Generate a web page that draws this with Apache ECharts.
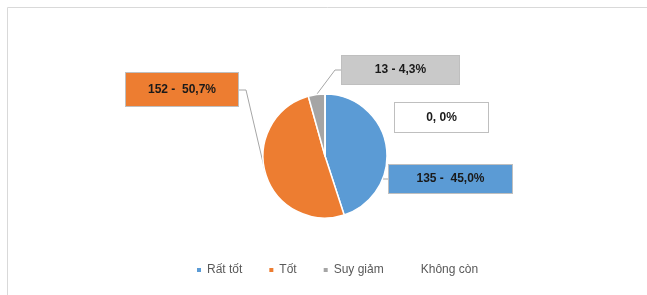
<!DOCTYPE html>
<html>
<head>
<meta charset="utf-8">
<script src="https://cdn.jsdelivr.net/npm/echarts@6/dist/echarts.min.js"></script>
<style>
  html, body { margin: 0; padding: 0; background: #fff; }
  #chart { width: 647px; height: 295px; }
</style>
</head>
<body>
<div id="chart"></div>
<script>
// data
var categories = ['Rất tốt', 'Tốt', 'Suy giảm', 'Không còn'];
var values = [135, 152, 13, 0];
var labelTexts = ['135 -  45,0%', '152 -  50,7%', '13 - 4,3%', '0, 0%'];

// look
var sliceColors = ['#5B9BD5', '#ED7D31', '#A5A5A5', '#ffffff'];
var boxColors = ['#5B9BD5', '#ED7D31', '#C9C9C9', '#ffffff'];
// label boxes: left, top, width, height, and where the leader line bends
var boxes = [
  { x: 388, y: 164, w: 125, h: 30, bend: [383, 179], end: [388, 179] },
  { x: 125, y: 72, w: 114, h: 35, bend: [246, 90], end: [239, 90] },
  { x: 341, y: 55, w: 119, h: 30, bend: [335, 70], end: [341, 70] },
  { x: 394, y: 102, w: 95, h: 31, bend: null, end: null }
];

var pieData = categories.map(function (name, i) {
  return {
    name: name,
    value: values[i],
    itemStyle: { color: sliceColors[i] },
    label: {
      formatter: labelTexts[i],
      backgroundColor: boxColors[i],
      width: boxes[i].w - 2,
      height: boxes[i].h - 2,
      lineHeight: boxes[i].h - 2
    },
    labelLine: { show: boxes[i].bend != null }
  };
});

var chart = echarts.init(document.getElementById('chart'));
chart.setOption({
  animation: false,
  graphic: [{
    type: 'rect',
    shape: { x: 7.5, y: 7.5, width: 700, height: 400 },
    style: { fill: 'none', stroke: '#d9d9d9', lineWidth: 1 },
    silent: true
  }],
  legend: {
    data: categories,
    left: 190,
    top: 259,
    icon: 'rect',
    itemWidth: 6,
    itemHeight: 6,
    itemGap: 25,
    textStyle: { color: '#595959', fontSize: 12, fontFamily: 'Liberation Sans' }
  },
  series: [{
    type: 'pie',
    center: [325, 156],
    radius: 62,
    startAngle: 90,
    clockwise: true,
    avoidLabelOverlap: false,
    data: pieData,
    itemStyle: { borderColor: '#fff', borderWidth: 1.5 },
    label: {
      show: true,
      position: 'outside',
      color: '#1a1a1a',
      fontWeight: 'bold',
      fontSize: 12,
      fontFamily: 'Liberation Sans',
      align: 'center',
      verticalAlign: 'middle',
      borderColor: '#bfbfbf',
      borderWidth: 1,
      padding: 0
    },
    labelLine: {
      show: true,
      lineStyle: { color: '#a6a6a6', width: 1 }
    },
    labelLayout: function (params) {
      var b = boxes[params.dataIndex];
      var out = {
        x: b.x + b.w / 2,
        y: b.y + b.h / 2,
        align: 'center',
        verticalAlign: 'middle'
      };
      if (b.bend && params.labelLinePoints) {
        out.labelLinePoints = [params.labelLinePoints[0], b.bend, b.end];
      }
      return out;
    }
  }]
});
</script>
</body>
</html>
